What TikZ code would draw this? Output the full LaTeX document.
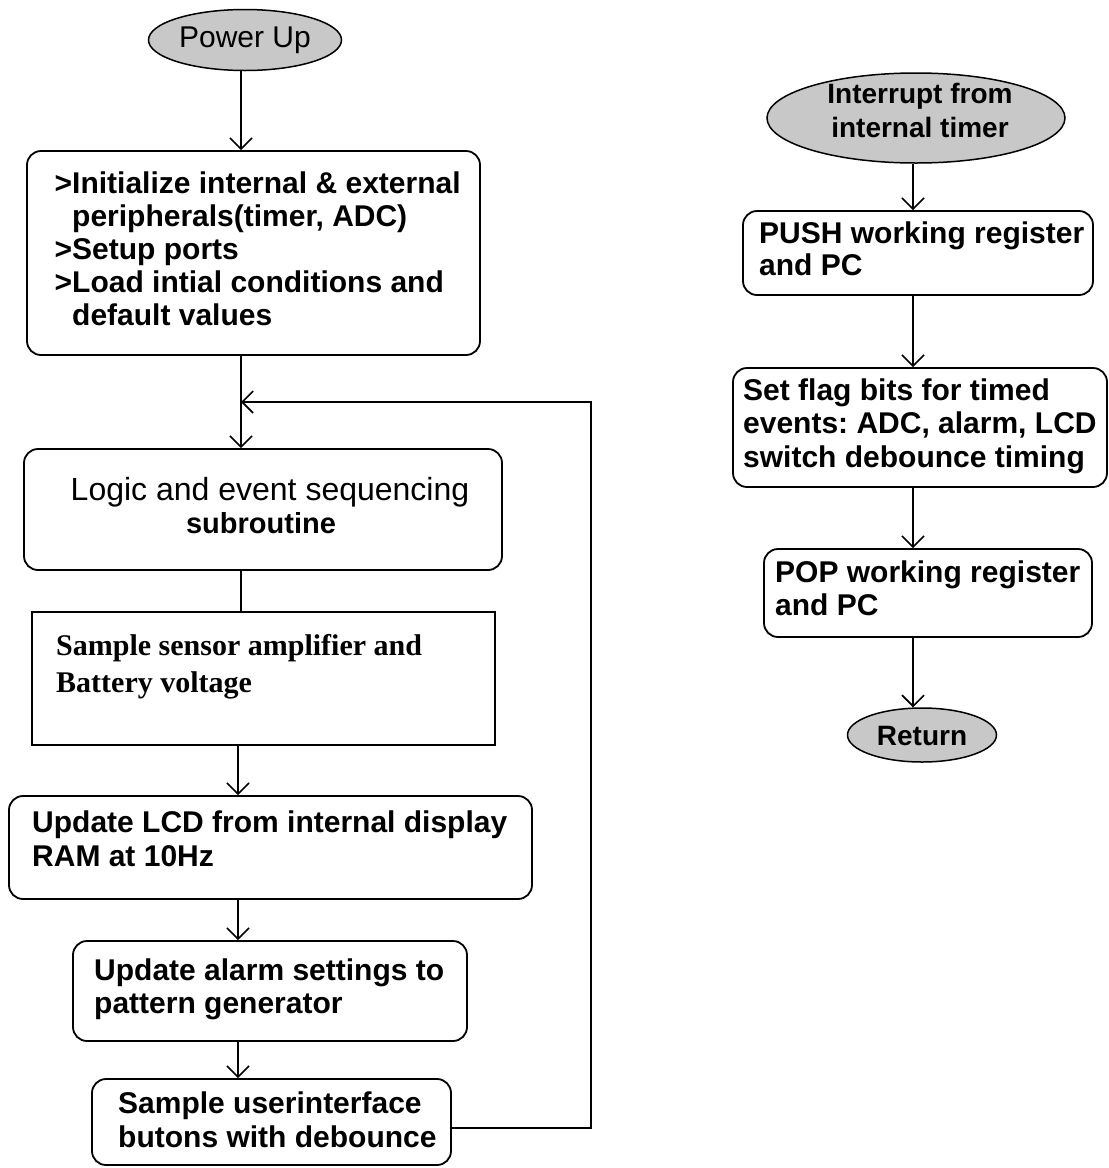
\documentclass[tikz,border=0pt]{standalone}
\usepackage{fontspec}
\setmainfont{Liberation Sans}
\newfontfamily\serifface{Liberation Serif}
\usetikzlibrary{arrows.meta,shapes.geometric}
\definecolor{termgray}{RGB}{200,200,200}
\frenchspacing

\begin{document}
\begin{tikzpicture}[x=1pt,y=-1pt,
  rbox/.style={draw, line width=1.8pt, rounded corners=14pt, inner sep=0pt},
  sbox/.style={draw, line width=1.8pt, inner sep=0pt},
  term/.style={ellipse, draw, line width=1.5pt, fill=termgray, inner sep=0pt},
  flow/.style={line width=1.6pt, -{Straight Barb[length=11pt,width=22pt]}},
  link/.style={line width=1.6pt},
  lbl/.style={anchor=base west, inner sep=0pt, font=\fontsize{30}{33}\selectfont\bfseries},
  clbl/.style={anchor=base, inner sep=0pt},
  serlbl/.style={anchor=base west, inner sep=0pt, font=\fontsize{30}{33}\selectfont\serifface\bfseries}
]
\useasboundingbox (0,0) rectangle (1109,1168);

% main loop (left column)
\node[term, minimum width=193pt, minimum height=61pt] (power) at (245,40) {};
\node[rbox, minimum width=453pt, minimum height=204pt] (init) at (253.5,253) {};
\node[rbox, minimum width=478pt, minimum height=121pt] (logic) at (263,509.5) {};
\node[sbox, minimum width=463pt, minimum height=133pt] (sens) at (263.5,678.5) {};
\node[rbox, minimum width=523pt, minimum height=103pt] (lcd) at (270.5,847.5) {};
\node[rbox, minimum width=394pt, minimum height=100pt] (alarm) at (270,991) {};
\node[rbox, minimum width=359pt, minimum height=86pt] (ui) at (271.5,1122) {};

% interrupt service routine (right column)
\node[term, minimum width=298pt, minimum height=90pt] (intr) at (916,118) {};
\node[rbox, minimum width=350pt, minimum height=84pt] (push) at (918,253) {};
\node[rbox, minimum width=374pt, minimum height=119pt] (flag) at (920,427.5) {};
\node[rbox, minimum width=328pt, minimum height=88pt] (pop) at (928,593) {};
\node[term, minimum width=149pt, minimum height=54pt] (ret) at (922,735) {};

% labels
\node[clbl, font=\fontsize{30}{33}\selectfont] (tpower) at (245,47) {Power Up};

\node[lbl] (ti1) at (72,193) {\llap{>}Initialize internal \& external};
\node[lbl] (ti2) at (72,226) {peripherals(timer, ADC)};
\node[lbl] (ti3) at (72,259) {\llap{>}Setup ports};
\node[lbl] (ti4) at (72,292) {\llap{>}Load intial conditions and};
\node[lbl] (ti5) at (72,325) {default values};

\node[clbl, font=\fontsize{32}{36}\selectfont] (tl1) at (270,500) {Logic and event sequencing};
\node[clbl, font=\fontsize{29}{33}\selectfont\bfseries] (tl2) at (261,533) {subroutine};

\node[serlbl] (ts1) at (56,655) {Sample sensor amplifier and};
\node[serlbl] (ts2) at (56,692) {Battery voltage};

\node[lbl] (td1) at (32,832) {Update LCD from internal display};
\node[lbl] (td2) at (32,866) {RAM at 10Hz};

\node[lbl] (ta1) at (94,980) {Update alarm settings to};
\node[lbl] (ta2) at (94,1013) {pattern generator};

\node[lbl] (tu1) at (118,1113) {Sample userinterface};
\node[lbl] (tu2) at (118,1147) {butons with debounce};

\node[clbl, font=\fontsize{28}{31}\selectfont\bfseries] (tr1) at (920,103) {Interrupt from};
\node[clbl, font=\fontsize{28}{31}\selectfont\bfseries] (tr2) at (920,137) {internal timer};

\node[lbl] (tp1) at (759,243) {PUSH working register};
\node[lbl] (tp2) at (759,275) {and PC};

\node[lbl] (tf1) at (743,400) {Set flag bits for timed};
\node[lbl] (tf2) at (743,433) {events: ADC, alarm, LCD};
\node[lbl] (tf3) at (743,467) {switch debounce timing};

\node[lbl] (to1) at (775,582) {POP working register};
\node[lbl] (to2) at (775,615) {and PC};

\node[clbl, font=\fontsize{28}{31}\selectfont\bfseries] (tret) at (922,745) {Return};

% connector columns and loop-back corner points
\coordinate (cl) at (241,0);
\coordinate (cm) at (238,0);
\coordinate (cr) at (913,0);
\coordinate (fbR) at (591,1128);
\coordinate (fbJ) at (241,402);

\draw[flow] (cl |- power.south) -- (cl |- init.north);
\draw[flow] (cl |- init.south) -- (cl |- logic.north);
\draw[link] (cl |- logic.south) -- (cl |- sens.north);
\draw[flow] (cm |- sens.south) -- (cm |- lcd.north);
\draw[flow] (cm |- lcd.south) -- (cm |- alarm.north);
\draw[flow] (cm |- alarm.south) -- (cm |- ui.north);
\draw[flow] (ui.east |- fbR) -- (fbR) |- (fbJ);

\draw[flow] (cr |- intr.south) -- (cr |- push.north);
\draw[flow] (cr |- push.south) -- (cr |- flag.north);
\draw[flow] (cr |- flag.south) -- (cr |- pop.north);
\draw[flow] (cr |- pop.south) -- (cr |- ret.north);
\end{tikzpicture}
\end{document}
